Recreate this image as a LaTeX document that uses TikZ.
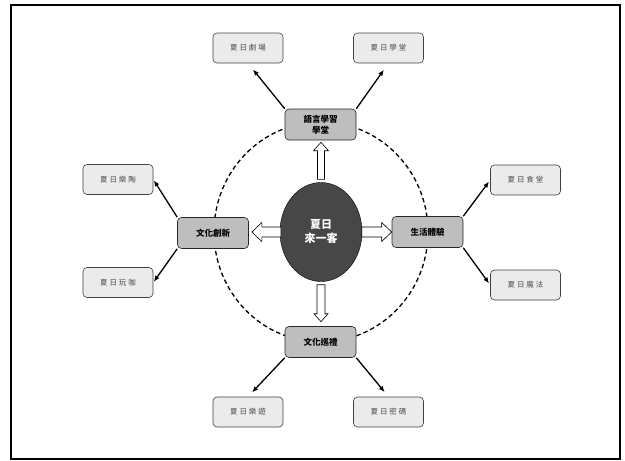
\documentclass[tikz,border=0pt]{standalone}
\usepackage{fontspec}
\setmainfont{Noto Sans CJK TC}
\newfontfamily\leaffont{Noto Sans CJK TC}[LetterSpace=25]
\usetikzlibrary{calc,shapes.geometric,arrows.meta}
\definecolor{hubgray}{HTML}{474747}
\definecolor{catgray}{HTML}{BEBEBE}
\definecolor{leafgray}{HTML}{EBEBEB}
\definecolor{leaftext}{HTML}{4A4A4A}
\tikzset{
  hub/.style={ellipse, draw=black, fill=hubgray, minimum width=82pt, minimum height=99pt,
    inner sep=0pt, text=white, align=center, font=\bfseries\fontsize{11}{14}\selectfont},
  cat/.style={rectangle, rounded corners=4pt, draw=black!85, line width=0.6pt, fill=catgray, minimum width=71pt,
    minimum height=31pt, inner sep=0pt, align=center, font=\bfseries\fontsize{8.5}{11}\selectfont},
  leaf/.style={rectangle, rounded corners=4pt, draw=black!75, line width=0.6pt, fill=leafgray, minimum width=70pt,
    minimum height=30pt, inner sep=0pt, text=leaftext, font=\leaffont\fontsize{7.5}{9}\selectfont},
  link/.style={-{Latex[length=6pt,width=5pt]}, line width=1.3pt},
  hollow/.style={draw=black, fill=white, line width=0.6pt, line join=miter},
  ring/.style={dashed, dash pattern=on 4.5pt off 3pt, line width=1.3pt},
  % length / shaft half width / head half width / head length
  pics/blockarrow/.style n args={4}{code={
    \draw[hollow] (0,-#2) -- (#1-#4,-#2) -- (#1-#4,-#3) -- (#1,0)
      -- (#1-#4,#3) -- (#1-#4,#2) -- (0,#2) -- cycle;}}
}
\begin{document}
\begin{tikzpicture}[x=1pt,y=-1pt]
      \useasboundingbox (0,0) rectangle (625,461);
      \draw[line width=1.8pt] (11,5) rectangle (620,459);
      \draw[ring] (321,232) ellipse [x radius=107pt, y radius=110pt];
      \node[hub] (hub) at (321,232) {夏日\\來一客};
      \node[cat] (yuyan) at (320.5,124.5) {語言學習\\學堂};
      \node[cat] (xunli) at (320.5,342) {文化巡禮};
      \node[cat] (chuangxin) at (213,233) {文化創新};
      \node[cat] (tiyan) at (427.5,232) {生活體驗};
      \node[leaf] (juchang) at (248,48) {夏日劇場};
      \node[leaf] (xuetang) at (388.5,48) {夏日學堂};
      \node[leaf] (yuetao) at (118,179.5) {夏日樂陶};
      \node[leaf] (wanka) at (118,282.5) {夏日玩咖};
      \node[leaf] (shitang) at (525.5,180) {夏日食堂};
      \node[leaf] (mofa) at (525.5,285) {夏日魔法};
      \node[leaf] (leyou) at (248,412) {夏日樂遊};
      \node[leaf] (mima) at (388.5,412) {夏日密碼};
      % hollow arrows out of the hub
      \pic[rotate=90] at ($(hub.north)+(0,-3)$) {blockarrow={37}{3.5}{7.5}{8.4}};
      \pic[rotate=270] at ($(hub.south)+(0,3)$) {blockarrow={37}{4}{7}{8}};
      \pic[rotate=180] at ($(hub.west)+(1,0)$) {blockarrow={29}{5}{9.5}{10}};
      \pic[rotate=0] at ($(hub.east)+(-0.5,0)$) {blockarrow={30}{5}{9.5}{10}};
      \begin{scope}[link]
        \draw[shorten >=8pt] (yuyan.north west) to (juchang.south);
        \draw[shorten >=8pt] (yuyan.north east) to (xuetang.south);
        \draw[shorten >=1pt] (chuangxin.north west) to (yuetao.east);
        \draw[shorten >=1pt] (chuangxin.south west) to (wanka.east);
        \draw[shorten >=2pt] (tiyan.north east) to (shitang.west);
        \draw[shorten >=2pt] (tiyan.south east) to (mofa.west);
        \draw[shorten >=6pt] (xunli.south west) to (leyou.north);
        \draw[shorten >=6pt] (xunli.south east) to (mima.north);
      \end{scope}
    \end{tikzpicture}
\end{document}
